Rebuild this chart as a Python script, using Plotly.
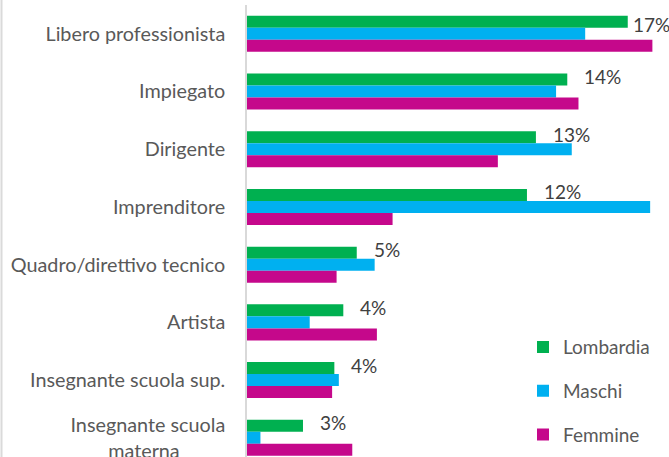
import plotly.graph_objects as go

categories = ["Libero professionista", "Impiegato", "Dirigente", "Imprenditore",
              "Quadro/direttivo tecnico", "Artista", "Insegnante scuola sup.",
              "Insegnante scuola<br>materna" + "\u00a0" * 9]
lombardia = [17.0, 14.3, 12.9, 12.5, 4.9, 4.3, 3.9, 2.5]
maschi = [15.1, 13.8, 14.5, 18.0, 5.7, 2.8, 4.1, 0.6]
femmine = [18.1, 14.8, 11.2, 6.5, 4.0, 5.8, 3.8, 4.7]
lombardia_labels = ["17%", "14%", "13%", "12%", "5%", "4%", "4%", "3%"]

series = [("Lombardia", lombardia, "#00B050"),
          ("Maschi", maschi, "#00B0F0"),
          ("Femmine", femmine, "#C5088B")]

FONT = "Lato"
fig = go.Figure()
for name, vals, col in series:
    fig.add_trace(go.Bar(y=categories, x=vals, name=name, orientation="h",
                         marker=dict(color=col, line=dict(width=0)),
                         legendgroup=name, hoverinfo="skip"))

XMAX = 18.44
for cat, v, lab in zip(categories, lombardia, lombardia_labels):
    near_edge = v > 16.5
    fig.add_annotation(x=v, y=cat, text=lab, showarrow=False, xanchor="left",
                       xshift=3 if near_edge else 15, yshift=9 if near_edge else 15,
                       font=dict(family=FONT, size=19, color="#404040"))

fig.add_shape(type="line", xref="paper", yref="paper",
              x0=-245.5 / 413, x1=-245.5 / 413, y0=0, y1=1.02,
              line=dict(color="#DADADA", width=2))

fig.update_layout(
    width=669, height=457,
    margin=dict(l=247, r=9, t=5, b=0, autoexpand=False),
    paper_bgcolor="white", plot_bgcolor="white",
    barmode="group", bargap=0.376, bargroupgap=0,
    font=dict(family=FONT, size=19, color="#595959"),
    showlegend=True,
    legend=dict(x=(523 - 247) / 413, y=0.285, xanchor="left", yanchor="top",
                traceorder="grouped", tracegroupgap=16,
                font=dict(family=FONT, size=19, color="#595959"),
                bgcolor="rgba(0,0,0,0)"),
    xaxis=dict(range=[0, XMAX], visible=False, showgrid=False, zeroline=False,
               automargin=False),
    yaxis=dict(type="category", range=[7.333, -0.5], showgrid=False,
               showline=True, linecolor="#D9D9D9", linewidth=1.5,
               ticks="", ticklabelstandoff=16, automargin=False,
               tickfont=dict(family=FONT, size=19.8, color="#595959")),
)

fig.write_html("out.html", config={"displayModeBar": False},
               post_script="document.body.style.margin='0';document.body.style.overflow='hidden';")
